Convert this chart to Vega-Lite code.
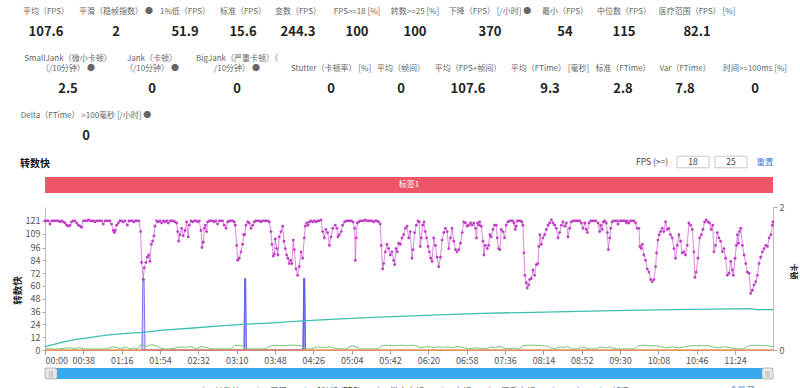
{
  "$schema": "https://vega.github.io/schema/vega-lite/v6.json",
  "width": 800,
  "height": 388,
  "autosize": {"type": "none"},
  "padding": 0,
  "background": "#ffffff",
  "config": {
    "view": {"stroke": null},
    "font": "Noto Sans CJK SC",
    "axis": {"labelFont": "Noto Sans CJK SC", "titleFont": "Noto Sans CJK SC"},
    "legend": {"labelFont": "Noto Sans CJK SC"}
  },
  "datasets": {
    "stats": [
      {"c": 0, "r": 1, "label": "\n平均（FPS）", "value": "107.6"},
      {"c": 1, "r": 1, "label": "\n平滑（稳帧指数） ●", "value": "2"},
      {"c": 2, "r": 1, "label": "\n1%低（FPS）", "value": "51.9"},
      {"c": 3, "r": 1, "label": "\n标准（FPS）", "value": "15.6"},
      {"c": 4, "r": 1, "label": "\n变数（FPS）", "value": "244.3"},
      {"c": 5, "r": 1, "label": "\nFPS>=18 [%]", "value": "100"},
      {"c": 6, "r": 1, "label": "\n转数>=25 [%]", "value": "100"},
      {"c": 7, "r": 1, "label": "\n下降（FPS） [/小时] ●", "value": "370"},
      {"c": 8, "r": 1, "label": "\n最小（FPS）", "value": "54"},
      {"c": 9, "r": 1, "label": "\n中位数（FPS）", "value": "115"},
      {"c": 10, "r": 1, "label": "\n医疗范围（FPS） [%]", "value": "82.1"},
      {"c": 11, "r": 2, "label": "SmallJank（微小卡顿）\n（/10分钟） ●", "value": "2.5"},
      {"c": 12, "r": 2, "label": "Jank（卡顿）\n（/10分钟） ●", "value": "0"},
      {"c": 13, "r": 2, "label": "BigJank（严重卡顿）（\n/10分钟） ●", "value": "0"},
      {"c": 14, "r": 2, "label": "\nStutter（卡顿率） [%]", "value": "0"},
      {"c": 15, "r": 2, "label": "\n平均（帧间）", "value": "0"},
      {"c": 16, "r": 2, "label": "\n平均（FPS+帧间）", "value": "107.6"},
      {"c": 17, "r": 2, "label": "\n平均（FTime） [毫秒]", "value": "9.3"},
      {"c": 18, "r": 2, "label": "\n标准（FTime）", "value": "2.8"},
      {"c": 19, "r": 2, "label": "\nVar（FTime）", "value": "7.8"},
      {"c": 20, "r": 2, "label": "\n时间>=100ms [%]", "value": "0"},
      {"c": 21, "r": 3, "label": "\nDelta（FTime） >100毫秒 [/小时] ●", "value": "0"}
    ],
    "controls": [
      {"c": 22, "r": 4, "text": "转数快", "kind": "title"},
      {"c": 23, "r": 4, "text": "FPS (>=)", "kind": "label"},
      {"c": 24, "r": 4, "text": "18", "kind": "box"},
      {"c": 25, "r": 4, "text": "25", "kind": "box"},
      {"c": 26, "r": 4, "text": "重置", "kind": "link"},
      {"c": 27, "r": 5, "text": "全隐藏", "kind": "link"}
    ],
    "fps": [
      {"t":0,"v":121},{"t":1.7,"v":121},{"t":3.3,"v":121},{"t":5,"v":118},{"t":6.6,"v":121},{"t":8.3,"v":121},{"t":10,"v":121},{"t":11.6,"v":121},{"t":13.2,"v":121},{"t":14.9,"v":120},{"t":16.5,"v":121},{"t":18.2,"v":120},{"t":19.8,"v":119},{"t":21.5,"v":117},{"t":23.1,"v":116},{"t":24.8,"v":117},{"t":26.4,"v":120},{"t":28,"v":121},{"t":29.7,"v":121},{"t":31.4,"v":119},{"t":33,"v":117},{"t":34.7,"v":116},{"t":36.3,"v":115},{"t":38,"v":121},{"t":39.6,"v":121},{"t":41.3,"v":121},{"t":43,"v":122},{"t":44.6,"v":121},{"t":46.2,"v":121},{"t":47.9,"v":121},{"t":49.5,"v":120},{"t":51.2,"v":121},{"t":52.8,"v":121},{"t":54.5,"v":121},{"t":56.1,"v":121},{"t":57.8,"v":118},{"t":59.5,"v":121},{"t":61,"v":121},{"t":62.7,"v":121},{"t":64.4,"v":121},{"t":66,"v":118},{"t":67.7,"v":112},{"t":68.7,"v":110},{"t":69.7,"v":112},{"t":71,"v":117},{"t":72.7,"v":119},{"t":74.3,"v":121},{"t":76,"v":121},{"t":77.6,"v":120},{"t":79.3,"v":121},{"t":81.6,"v":117},{"t":83.2,"v":121},{"t":84.9,"v":121},{"t":86.5,"v":121},{"t":88.2,"v":120},{"t":89.8,"v":121},{"t":91.5,"v":121},{"t":93.1,"v":121},{"t":94.8,"v":111},{"t":95.8,"v":82},{"t":97.4,"v":66},{"t":98.4,"v":77},{"t":100,"v":82},{"t":101.4,"v":87},{"t":102.7,"v":89},{"t":104,"v":83},{"t":105.4,"v":99},{"t":106.7,"v":102},{"t":108,"v":107},{"t":109,"v":116},{"t":110.7,"v":121},{"t":112.3,"v":120},{"t":114,"v":121},{"t":115.6,"v":119},{"t":117.3,"v":121},{"t":119,"v":120},{"t":120.6,"v":121},{"t":122.2,"v":119},{"t":123.9,"v":121},{"t":125.5,"v":121},{"t":127.2,"v":121},{"t":128.8,"v":120},{"t":130.5,"v":119},{"t":131.5,"v":111},{"t":132.5,"v":102},{"t":133.8,"v":108},{"t":135.4,"v":114},{"t":137,"v":107},{"t":138.7,"v":112},{"t":140.4,"v":120},{"t":142,"v":106},{"t":143,"v":117},{"t":144.7,"v":121},{"t":146.3,"v":120},{"t":148,"v":121},{"t":149.6,"v":121},{"t":151.3,"v":120},{"t":153,"v":121},{"t":154.6,"v":112},{"t":155.6,"v":96},{"t":156.9,"v":101},{"t":157.9,"v":114},{"t":158.9,"v":117},{"t":160.2,"v":111},{"t":161.2,"v":120},{"t":162.8,"v":121},{"t":164.5,"v":121},{"t":166.1,"v":121},{"t":167.8,"v":120},{"t":169.4,"v":121},{"t":171.1,"v":118},{"t":172.8,"v":121},{"t":174.4,"v":121},{"t":176,"v":121},{"t":177.7,"v":117},{"t":179.4,"v":114},{"t":181,"v":120},{"t":182.7,"v":121},{"t":184.3,"v":121},{"t":186,"v":121},{"t":187.6,"v":120},{"t":188.6,"v":117},{"t":190,"v":98},{"t":191,"v":84},{"t":192.6,"v":86},{"t":194.2,"v":92},{"t":195.9,"v":99},{"t":196.9,"v":108},{"t":197.9,"v":108},{"t":199.2,"v":117},{"t":200.9,"v":120},{"t":202.5,"v":119},{"t":204.2,"v":114},{"t":205.8,"v":117},{"t":207.5,"v":120},{"t":209,"v":121},{"t":210.8,"v":121},{"t":212.4,"v":121},{"t":214,"v":120},{"t":215.7,"v":121},{"t":217.4,"v":121},{"t":219,"v":121},{"t":220.7,"v":121},{"t":222.3,"v":120},{"t":224,"v":111},{"t":225,"v":99},{"t":226.3,"v":88},{"t":227.3,"v":90},{"t":228.3,"v":104},{"t":229.6,"v":95},{"t":230.9,"v":89},{"t":232.2,"v":106},{"t":233.9,"v":111},{"t":235.6,"v":116},{"t":236.9,"v":102},{"t":238.2,"v":95},{"t":239.5,"v":89},{"t":240.8,"v":86},{"t":242.1,"v":81},{"t":243.5,"v":84},{"t":244.8,"v":81},{"t":246.1,"v":103},{"t":247.1,"v":94},{"t":248.8,"v":76},{"t":250.4,"v":70},{"t":252,"v":78},{"t":253.7,"v":92},{"t":255.4,"v":86},{"t":257,"v":105},{"t":258,"v":116},{"t":259.3,"v":119},{"t":260.7,"v":117},{"t":262,"v":120},{"t":263.6,"v":121},{"t":265.3,"v":120},{"t":267,"v":121},{"t":268.6,"v":120},{"t":270.3,"v":121},{"t":271.9,"v":121},{"t":273.6,"v":122},{"t":275.2,"v":111},{"t":276.9,"v":105},{"t":278.5,"v":113},{"t":280.2,"v":110},{"t":281.9,"v":98},{"t":283.5,"v":106},{"t":285.2,"v":114},{"t":287.7,"v":117},{"t":289.4,"v":114},{"t":290.4,"v":106},{"t":291.7,"v":108},{"t":293.7,"v":111},{"t":295,"v":117},{"t":297,"v":120},{"t":298.7,"v":121},{"t":300.3,"v":121},{"t":302,"v":121},{"t":303.6,"v":121},{"t":305.3,"v":120},{"t":306.9,"v":114},{"t":307.6,"v":84},{"t":308.5,"v":105},{"t":309.5,"v":119},{"t":310.9,"v":120},{"t":312.5,"v":121},{"t":314.2,"v":121},{"t":315.8,"v":121},{"t":317.5,"v":122},{"t":319.1,"v":121},{"t":320.8,"v":121},{"t":322.4,"v":121},{"t":324,"v":121},{"t":325.7,"v":120},{"t":327.4,"v":121},{"t":329,"v":121},{"t":330.7,"v":120},{"t":332.3,"v":118},{"t":333.3,"v":98},{"t":334.7,"v":76},{"t":335.7,"v":81},{"t":337.3,"v":92},{"t":339,"v":99},{"t":340.6,"v":95},{"t":342.3,"v":89},{"t":343.9,"v":92},{"t":345.6,"v":84},{"t":346.6,"v":80},{"t":347.9,"v":95},{"t":349.2,"v":92},{"t":350.5,"v":100},{"t":352.2,"v":99},{"t":353.8,"v":105},{"t":355.5,"v":108},{"t":357.2,"v":114},{"t":358.8,"v":116},{"t":360.5,"v":105},{"t":362.1,"v":111},{"t":363.8,"v":86},{"t":364.8,"v":94},{"t":366.4,"v":110},{"t":368.1,"v":117},{"t":369.7,"v":121},{"t":371,"v":120},{"t":372,"v":97},{"t":373,"v":105},{"t":374.4,"v":117},{"t":375.7,"v":120},{"t":377,"v":111},{"t":378.3,"v":105},{"t":379.7,"v":97},{"t":381,"v":92},{"t":382.3,"v":86},{"t":383.7,"v":83},{"t":385.3,"v":105},{"t":387,"v":98},{"t":388.6,"v":87},{"t":390.3,"v":78},{"t":392,"v":87},{"t":393.6,"v":103},{"t":395.3,"v":110},{"t":396.9,"v":114},{"t":398.6,"v":111},{"t":400.2,"v":95},{"t":401.9,"v":105},{"t":403.5,"v":114},{"t":405.2,"v":102},{"t":406.9,"v":94},{"t":408.5,"v":92},{"t":410.2,"v":94},{"t":411.8,"v":100},{"t":413.5,"v":110},{"t":415.1,"v":120},{"t":416.8,"v":119},{"t":418.4,"v":116},{"t":420,"v":117},{"t":421.8,"v":119},{"t":423.4,"v":117},{"t":425,"v":119},{"t":426.7,"v":114},{"t":427.7,"v":105},{"t":428.7,"v":119},{"t":430,"v":117},{"t":430.8,"v":120},{"t":432.4,"v":116},{"t":434.1,"v":102},{"t":435.1,"v":89},{"t":436.4,"v":98},{"t":438.4,"v":95},{"t":439.7,"v":98},{"t":441,"v":108},{"t":442.3,"v":106},{"t":444,"v":113},{"t":445.7,"v":117},{"t":447.3,"v":117},{"t":448.3,"v":105},{"t":449.6,"v":95},{"t":450.9,"v":94},{"t":452.2,"v":113},{"t":453.9,"v":111},{"t":455.5,"v":105},{"t":457.2,"v":117},{"t":458.8,"v":120},{"t":460.5,"v":121},{"t":462.1,"v":121},{"t":463.8,"v":121},{"t":464.8,"v":119},{"t":466.1,"v":113},{"t":467.1,"v":116},{"t":468.1,"v":121},{"t":469.8,"v":121},{"t":471.4,"v":121},{"t":472.7,"v":120},{"t":473.7,"v":117},{"t":474.7,"v":91},{"t":475.7,"v":70},{"t":477,"v":63},{"t":478,"v":58},{"t":479.4,"v":61},{"t":480.4,"v":66},{"t":482,"v":67},{"t":483.7,"v":75},{"t":485.3,"v":70},{"t":487,"v":80},{"t":488.6,"v":81},{"t":489.6,"v":97},{"t":490.6,"v":108},{"t":491.9,"v":99},{"t":493.6,"v":105},{"t":495.2,"v":108},{"t":496.9,"v":113},{"t":498.6,"v":117},{"t":500.2,"v":119},{"t":501.9,"v":122},{"t":503.5,"v":119},{"t":505.2,"v":117},{"t":506.8,"v":114},{"t":508.5,"v":105},{"t":510.1,"v":110},{"t":511.8,"v":117},{"t":513.4,"v":120},{"t":515.1,"v":116},{"t":516.8,"v":119},{"t":518.4,"v":106},{"t":520,"v":114},{"t":521.7,"v":120},{"t":523.4,"v":121},{"t":525,"v":121},{"t":526.7,"v":121},{"t":528.3,"v":121},{"t":530,"v":121},{"t":531.6,"v":119},{"t":533.3,"v":114},{"t":535,"v":119},{"t":536.6,"v":113},{"t":537.6,"v":110},{"t":539.3,"v":119},{"t":540.9,"v":121},{"t":542.6,"v":121},{"t":544.2,"v":121},{"t":545.9,"v":121},{"t":548.2,"v":119},{"t":549.8,"v":111},{"t":550.8,"v":117},{"t":552.2,"v":113},{"t":553.5,"v":120},{"t":554.8,"v":121},{"t":556.4,"v":119},{"t":557.4,"v":110},{"t":558.4,"v":94},{"t":559.8,"v":105},{"t":560.8,"v":114},{"t":562.1,"v":120},{"t":563.7,"v":121},{"t":565.4,"v":121},{"t":567.1,"v":121},{"t":568,"v":118},{"t":569.7,"v":121},{"t":571.4,"v":121},{"t":573,"v":121},{"t":574.7,"v":121},{"t":576.3,"v":119},{"t":577.1,"v":121},{"t":578.7,"v":119},{"t":580.4,"v":121},{"t":582,"v":121},{"t":583.7,"v":121},{"t":585.4,"v":119},{"t":587,"v":114},{"t":588.7,"v":114},{"t":589.7,"v":97},{"t":591,"v":95},{"t":592,"v":99},{"t":593.6,"v":89},{"t":595.3,"v":84},{"t":597,"v":76},{"t":598.6,"v":73},{"t":600.3,"v":66},{"t":601.9,"v":64},{"t":603.6,"v":66},{"t":605.2,"v":78},{"t":606.2,"v":91},{"t":607.5,"v":103},{"t":608.8,"v":108},{"t":610.1,"v":111},{"t":611.8,"v":114},{"t":613.4,"v":111},{"t":615.1,"v":120},{"t":616.8,"v":113},{"t":618.4,"v":114},{"t":620,"v":108},{"t":621.7,"v":105},{"t":623.4,"v":95},{"t":625,"v":86},{"t":626.7,"v":98},{"t":628.3,"v":108},{"t":630,"v":102},{"t":631.6,"v":91},{"t":633.3,"v":92},{"t":634.9,"v":89},{"t":636.6,"v":98},{"t":638.2,"v":119},{"t":639.9,"v":117},{"t":641.6,"v":113},{"t":643.2,"v":92},{"t":644.2,"v":68},{"t":645.5,"v":73},{"t":647.2,"v":86},{"t":648.9,"v":105},{"t":650.5,"v":108},{"t":652.2,"v":113},{"t":653.8,"v":120},{"t":655.5,"v":122},{"t":657.1,"v":120},{"t":658.8,"v":119},{"t":660.4,"v":113},{"t":661.8,"v":117},{"t":663.1,"v":92},{"t":664.7,"v":98},{"t":666.4,"v":110},{"t":668,"v":105},{"t":669.7,"v":102},{"t":671.4,"v":92},{"t":673,"v":95},{"t":674.7,"v":86},{"t":676.3,"v":70},{"t":678,"v":72},{"t":679.7,"v":83},{"t":681.3,"v":75},{"t":682.3,"v":70},{"t":684,"v":86},{"t":685.3,"v":98},{"t":686.3,"v":108},{"t":687.3,"v":100},{"t":688.3,"v":111},{"t":689.6,"v":114},{"t":691.3,"v":98},{"t":692.9,"v":89},{"t":694.6,"v":81},{"t":696.2,"v":73},{"t":697.9,"v":72},{"t":699.5,"v":53},{"t":701.2,"v":56},{"t":702.8,"v":61},{"t":704.5,"v":64},{"t":706.2,"v":70},{"t":707.8,"v":81},{"t":709.5,"v":87},{"t":711.1,"v":92},{"t":712.8,"v":95},{"t":714.4,"v":98},{"t":716.1,"v":97},{"t":717.8,"v":105},{"t":719.4,"v":108},{"t":721,"v":117},{"t":721.5,"v":120}
    ],
    "low1": [
      {"t":0,"v":3.1},{"t":5,"v":4.3},{"t":10,"v":5.5},{"t":15,"v":6.8},{"t":20,"v":7.8},{"t":28,"v":9.4},{"t":40,"v":11.2},{"t":61,"v":14},{"t":80,"v":15.6},{"t":97,"v":16.6},{"t":120,"v":18.8},{"t":144,"v":20.4},{"t":170,"v":22.3},{"t":196,"v":24},{"t":230,"v":25.7},{"t":255,"v":27.2},{"t":288,"v":29},{"t":320,"v":30.3},{"t":350,"v":31.5},{"t":390,"v":33},{"t":433,"v":34.4},{"t":495,"v":35.5},{"t":540,"v":36.4},{"t":578,"v":37.2},{"t":640,"v":38},{"t":700,"v":38.8},{"t":705,"v":37.8},{"t":721.6,"v":37.8}
    ],
    "smooth": [
      {"t":0,"v":1},{"t":6,"v":1},{"t":12,"v":0.8},{"t":18,"v":1.5},{"t":22,"v":2},{"t":26,"v":2},{"t":30,"v":1},{"t":34,"v":2.5},{"t":38,"v":1},{"t":44,"v":1},{"t":50,"v":0.8},{"t":56,"v":1},{"t":62,"v":1},{"t":67,"v":3},{"t":71,"v":2.5},{"t":75,"v":1},{"t":80,"v":3},{"t":84,"v":1},{"t":88,"v":2},{"t":92,"v":1},{"t":96,"v":6},{"t":99,"v":3},{"t":102,"v":4},{"t":106,"v":5},{"t":110,"v":4},{"t":114,"v":2},{"t":118,"v":1},{"t":124,"v":1},{"t":130,"v":2},{"t":134,"v":3},{"t":138,"v":2.5},{"t":142,"v":3},{"t":146,"v":3},{"t":150,"v":1},{"t":154,"v":3},{"t":158,"v":3},{"t":162,"v":2},{"t":166,"v":1},{"t":172,"v":1},{"t":178,"v":1},{"t":184,"v":1},{"t":188,"v":4},{"t":192,"v":4.5},{"t":196,"v":3.5},{"t":200,"v":1},{"t":206,"v":1},{"t":212,"v":1},{"t":218,"v":1},{"t":224,"v":4},{"t":230,"v":4.5},{"t":236,"v":4},{"t":242,"v":4.5},{"t":248,"v":4.5},{"t":254,"v":4},{"t":258,"v":1},{"t":264,"v":1},{"t":270,"v":3},{"t":276,"v":2},{"t":282,"v":3},{"t":286,"v":2},{"t":292,"v":1},{"t":298,"v":1},{"t":304,"v":4},{"t":308,"v":3},{"t":312,"v":1},{"t":318,"v":1},{"t":324,"v":1},{"t":330,"v":1},{"t":334,"v":4},{"t":340,"v":4.5},{"t":346,"v":4},{"t":352,"v":4.5},{"t":358,"v":4},{"t":364,"v":4.5},{"t":368,"v":4},{"t":372,"v":2},{"t":376,"v":3},{"t":382,"v":3},{"t":386,"v":2},{"t":390,"v":3},{"t":394,"v":2.5},{"t":400,"v":3},{"t":404,"v":2},{"t":408,"v":3},{"t":412,"v":3},{"t":416,"v":2},{"t":420,"v":1},{"t":426,"v":2},{"t":432,"v":1.5},{"t":438,"v":1},{"t":442,"v":3},{"t":446,"v":2},{"t":450,"v":3.5},{"t":454,"v":2},{"t":460,"v":1},{"t":466,"v":2},{"t":470,"v":1},{"t":474,"v":4},{"t":480,"v":4.5},{"t":486,"v":4.5},{"t":492,"v":4},{"t":498,"v":3.5},{"t":504,"v":1},{"t":510,"v":3},{"t":514,"v":2},{"t":518,"v":3.5},{"t":522,"v":1},{"t":528,"v":1},{"t":532,"v":3},{"t":536,"v":2},{"t":540,"v":1},{"t":546,"v":1},{"t":550,"v":3},{"t":556,"v":2},{"t":560,"v":3},{"t":566,"v":1},{"t":572,"v":1},{"t":578,"v":1},{"t":584,"v":1},{"t":588,"v":4},{"t":594,"v":4.5},{"t":600,"v":4},{"t":606,"v":4},{"t":610,"v":3},{"t":616,"v":2},{"t":622,"v":3},{"t":628,"v":2},{"t":634,"v":3},{"t":640,"v":4},{"t":646,"v":4},{"t":652,"v":4},{"t":658,"v":4},{"t":662,"v":3},{"t":668,"v":2},{"t":674,"v":3},{"t":680,"v":2},{"t":686,"v":1},{"t":692,"v":1},{"t":698,"v":4},{"t":704,"v":4.5},{"t":710,"v":4},{"t":716,"v":4},{"t":721.6,"v":3}
    ],
    "jankline": [{"t": 0, "v": 0}, {"t": 721.6, "v": 0}],
    "spikes": [
      {"e": 1, "t": 96, "v": 0}, {"e": 1, "t": 97, "v": 1}, {"e": 1, "t": 98.2, "v": 1}, {"e": 1, "t": 99.2, "v": 0},
      {"e": 2, "t": 197.3, "v": 0}, {"e": 2, "t": 198, "v": 1}, {"e": 2, "t": 198.8, "v": 1}, {"e": 2, "t": 199.5, "v": 0},
      {"e": 3, "t": 255.8, "v": 0}, {"e": 3, "t": 256.5, "v": 1}, {"e": 3, "t": 257.3, "v": 1}, {"e": 3, "t": 258, "v": 0}
    ],
    "band": [{"start": 0, "end": 721.6, "mid": 360.8, "label": "标签1"}],
    "slider": [{"start": 0, "end": 721.6, "bar": "slider"}]
  },
  "layer": [
    {
      "data": {"name": "stats"},
      "mark": {"type": "text", "baseline": "bottom", "align": "center", "fontSize": 8, "color": "#666666", "lineBreak": "\n", "lineHeight": 10},
      "encoding": {
        "x": {"field": "c", "type": "quantitative", "axis": null, "scale": {"domain": [0,1,2,3,4,5,6,7,8,9,10,11,12,13,14,15,16,17,18,19,20,21,22,23,24,25,26,27], "range": [46,116,185,243,298,357,415,490,565,624,697,68,152,237,331,401,468,550,623,685,755,86,20,652,693,731,765,742], "nice": false, "zero": false}},
        "y": {"field": "r", "type": "quantitative", "axis": null, "scale": {"domain": [1,2,3,4,5], "range": [5.5,62.5,109.5,167,395], "nice": false, "zero": false}},
        "text": {"field": "label"}
      }
    },
    {
      "data": {"name": "stats"},
      "mark": {"type": "text", "baseline": "middle", "align": "center", "dy": 26.5, "fontSize": 13, "fontWeight": "bold", "color": "#222222"},
      "encoding": {
        "x": {"field": "c", "type": "quantitative", "axis": null, "scale": {"domain": [0,1,2,3,4,5,6,7,8,9,10,11,12,13,14,15,16,17,18,19,20,21,22,23,24,25,26,27], "range": [46,116,185,243,298,357,415,490,565,624,697,68,152,237,331,401,468,550,623,685,755,86,20,652,693,731,765,742], "nice": false, "zero": false}},
        "y": {"field": "r", "type": "quantitative", "axis": null, "scale": {"domain": [1,2,3,4,5], "range": [5.5,62.5,109.5,167,395], "nice": false, "zero": false}},
        "text": {"field": "value"}
      }
    },
    {
      "data": {"name": "controls"},
      "transform": [{"filter": "datum.kind === 'title'"}],
      "mark": {"type": "text", "baseline": "middle", "align": "left", "dy": -3, "fontSize": 10, "fontWeight": "bold", "color": "#111111"},
      "encoding": {
        "x": {"field": "c", "type": "quantitative", "axis": null, "scale": {"domain": [0,1,2,3,4,5,6,7,8,9,10,11,12,13,14,15,16,17,18,19,20,21,22,23,24,25,26,27], "range": [46,116,185,243,298,357,415,490,565,624,697,68,152,237,331,401,468,550,623,685,755,86,20,652,693,731,765,742], "nice": false, "zero": false}},
        "y": {"field": "r", "type": "quantitative", "axis": null, "scale": {"domain": [1,2,3,4,5], "range": [5.5,62.5,109.5,167,395], "nice": false, "zero": false}},
        "text": {"field": "text"}
      }
    },
    {
      "data": {"name": "controls"},
      "transform": [{"filter": "datum.kind === 'box'"}],
      "mark": {"type": "point", "shape": "M-1,-0.36H1V0.36H-1Z", "size": 1024, "filled": true, "fill": "#ffffff", "stroke": "#c8c8c8", "strokeWidth": 1, "opacity": 1, "yOffset": -5},
      "encoding": {
        "x": {"field": "c", "type": "quantitative", "axis": null, "scale": {"domain": [0,1,2,3,4,5,6,7,8,9,10,11,12,13,14,15,16,17,18,19,20,21,22,23,24,25,26,27], "range": [46,116,185,243,298,357,415,490,565,624,697,68,152,237,331,401,468,550,623,685,755,86,20,652,693,731,765,742], "nice": false, "zero": false}},
        "y": {"field": "r", "type": "quantitative", "axis": null, "scale": {"domain": [1,2,3,4,5], "range": [5.5,62.5,109.5,167,395], "nice": false, "zero": false}}
      }
    },
    {
      "data": {"name": "controls"},
      "transform": [{"filter": "datum.kind === 'box' || datum.kind === 'label'"}],
      "mark": {"type": "text", "baseline": "middle", "align": "center", "dy": -5, "fontSize": 8.5, "color": "#444444"},
      "encoding": {
        "x": {"field": "c", "type": "quantitative", "axis": null, "scale": {"domain": [0,1,2,3,4,5,6,7,8,9,10,11,12,13,14,15,16,17,18,19,20,21,22,23,24,25,26,27], "range": [46,116,185,243,298,357,415,490,565,624,697,68,152,237,331,401,468,550,623,685,755,86,20,652,693,731,765,742], "nice": false, "zero": false}},
        "y": {"field": "r", "type": "quantitative", "axis": null, "scale": {"domain": [1,2,3,4,5], "range": [5.5,62.5,109.5,167,395], "nice": false, "zero": false}},
        "text": {"field": "text"}
      }
    },
    {
      "data": {"name": "controls"},
      "transform": [{"filter": "datum.kind === 'link'"}],
      "mark": {"type": "text", "baseline": "middle", "align": "center", "dy": -5, "fontSize": 8.5, "color": "#3b7ddd"},
      "encoding": {
        "x": {"field": "c", "type": "quantitative", "axis": null, "scale": {"domain": [0,1,2,3,4,5,6,7,8,9,10,11,12,13,14,15,16,17,18,19,20,21,22,23,24,25,26,27], "range": [46,116,185,243,298,357,415,490,565,624,697,68,152,237,331,401,468,550,623,685,755,86,20,652,693,731,765,742], "nice": false, "zero": false}},
        "y": {"field": "r", "type": "quantitative", "axis": null, "scale": {"domain": [1,2,3,4,5], "range": [5.5,62.5,109.5,167,395], "nice": false, "zero": false}},
        "text": {"field": "text"}
      }
    },
    {
      "data": {"name": "band"},
      "mark": {"type": "rect", "color": "#ee5566"},
      "encoding": {
        "x": {"field": "start", "type": "quantitative", "axis": null, "scale": {"domain": [0, 721.6], "range": [45, 773], "nice": false, "zero": false}},
        "x2": {"field": "end"},
        "y": {"field": "label", "type": "nominal", "axis": null, "scale": {"range": [177, 193], "paddingInner": 0, "paddingOuter": 0}}
      }
    },
    {
      "data": {"name": "band"},
      "mark": {"type": "text", "color": "#ffffff", "fontSize": 8, "baseline": "middle", "align": "center"},
      "encoding": {
        "x": {"field": "mid", "type": "quantitative", "axis": null, "scale": {"domain": [0, 721.6], "range": [45, 773], "nice": false, "zero": false}},
        "y": {"field": "label", "type": "nominal", "axis": null, "bandPosition": 0.5, "scale": {"range": [177, 193], "paddingInner": 0, "paddingOuter": 0}},
        "text": {"field": "label"}
      }
    },
    {
      "data": {"name": "spikes"},
      "mark": {"type": "area", "fillOpacity": 0.3, "line": {"strokeWidth": 0.8}},
      "encoding": {
        "x": {"field": "t", "type": "quantitative", "axis": null, "scale": {"domain": [0, 721.6], "range": [45, 773], "nice": false, "zero": false}},
        "y": {"field": "v", "type": "quantitative", "scale": {"domain": [0, 2], "range": [350, 207], "nice": false, "zero": false},
              "axis": {"orient": "right", "offset": -27, "values": [0, 1, 2], "format": "d", "grid": false, "tickSize": 4, "tickColor": "#aaaaaa", "domainColor": "#bbbbbb", "labelColor": "#555555", "labelFontSize": 9, "labelPadding": 2, "title": "卡顿", "titleFontSize": 8, "titleFontWeight": "bold", "titleColor": "#222222", "titleAngle": 90, "titleX": 19, "titleY": 271, "titleBaseline": "middle", "titleAlign": "center"}},
        "detail": {"field": "e", "type": "nominal"},
        "color": {"datum": "微小卡顿", "scale": {"domain": ["转数快", "平滑", "1%低 (FPS)", "微小卡顿", "卡顿", "严重卡顿", "口吃", "帧间"], "range": ["#c13dc6", "#72c872", "#3fbfae", "#5a5af2", "#f0915a", "#e64c4c", "#3d7fe0", "#3cc7d8"]},
                  "legend": {"orient": "none", "legendX": 196, "legendY": 383, "direction": "horizontal", "title": null, "symbolType": "M-1,0H-0.4M0.4,0H1M0.4,0A0.4,0.4,0,1,0,-0.4,0A0.4,0.4,0,1,0,0.4,0", "symbolSize": 169, "symbolStrokeWidth": 1.5, "symbolFillColor": "#ffffff", "symbolOpacity": 1, "labelFontSize": 8.5, "labelColor": "#333333", "labelOffset": 4, "columnPadding": 8}}
      }
    },
    {
      "data": {"name": "low1"},
      "mark": {"type": "line", "strokeWidth": 1.3},
      "encoding": {
        "x": {"field": "t", "type": "quantitative", "axis": null, "scale": {"domain": [0, 721.6], "range": [45, 773], "nice": false, "zero": false}},
        "y": {"field": "v", "type": "quantitative", "axis": null, "scale": {"domain": [0, 134], "range": [350, 207], "nice": false, "zero": false}},
        "color": {"datum": "1%低 (FPS)", "scale": {"domain": ["转数快", "平滑", "1%低 (FPS)", "微小卡顿", "卡顿", "严重卡顿", "口吃", "帧间"], "range": ["#c13dc6", "#72c872", "#3fbfae", "#5a5af2", "#f0915a", "#e64c4c", "#3d7fe0", "#3cc7d8"]}}
      }
    },
    {
      "data": {"name": "smooth"},
      "mark": {"type": "line", "strokeWidth": 1},
      "encoding": {
        "x": {"field": "t", "type": "quantitative", "axis": null, "scale": {"domain": [0, 721.6], "range": [45, 773], "nice": false, "zero": false}},
        "y": {"field": "v", "type": "quantitative", "axis": null, "scale": {"domain": [0, 134], "range": [350, 207], "nice": false, "zero": false}},
        "color": {"datum": "平滑", "scale": {"domain": ["转数快", "平滑", "1%低 (FPS)", "微小卡顿", "卡顿", "严重卡顿", "口吃", "帧间"], "range": ["#c13dc6", "#72c872", "#3fbfae", "#5a5af2", "#f0915a", "#e64c4c", "#3d7fe0", "#3cc7d8"]}}
      }
    },
    {
      "data": {"name": "jankline"},
      "mark": {"type": "line", "strokeWidth": 1.5},
      "encoding": {
        "x": {"field": "t", "type": "quantitative", "axis": null, "scale": {"domain": [0, 721.6], "range": [45, 773], "nice": false, "zero": false}},
        "y": {"field": "v", "type": "quantitative", "axis": null, "scale": {"domain": [0, 134], "range": [350, 207], "nice": false, "zero": false}},
        "color": {"datum": "卡顿", "scale": {"domain": ["转数快", "平滑", "1%低 (FPS)", "微小卡顿", "卡顿", "严重卡顿", "口吃", "帧间"], "range": ["#c13dc6", "#72c872", "#3fbfae", "#5a5af2", "#f0915a", "#e64c4c", "#3d7fe0", "#3cc7d8"]}}
      }
    },
    {
      "data": {"name": "fps"},
      "mark": {"type": "line", "strokeWidth": 1, "strokeOpacity": 0.6},
      "encoding": {
        "x": {"field": "t", "type": "quantitative", "scale": {"domain": [0, 721.6], "range": [45, 773], "nice": false, "zero": false},
              "axis": {"orient": "bottom", "offset": -38, "values": [0,38,76,114,152,190,228,266,304,342,380,418,456,494,532,570,608,646,684], "labelExpr": "utcFormat(datum.value * 1000, '%M:%S')", "title": null, "grid": false, "tickSize": 4, "tickColor": "#999999", "domainColor": "#999999", "labelColor": "#555555", "labelFontSize": 9, "labelPadding": 2, "labelOverlap": false}},
        "y": {"field": "v", "type": "quantitative", "scale": {"domain": [0, 134], "range": [350, 207], "nice": false, "zero": false},
              "axis": {"orient": "left", "offset": -45, "values": [0,12,24,36,48,60,72,84,96,109,121], "grid": false, "tickSize": 3, "tickColor": "#aaaaaa", "domainColor": "#bbbbbb", "labelColor": "#555555", "labelFontSize": 9, "labelPadding": 2, "labelOverlap": false, "title": "转数快", "titleFontSize": 9.5, "titleFontWeight": "bold", "titleColor": "#222222", "titleAngle": -90, "titleX": -28, "titleY": 290, "titleBaseline": "middle", "titleAlign": "center"}},
        "color": {"datum": "转数快", "scale": {"domain": ["转数快", "平滑", "1%低 (FPS)", "微小卡顿", "卡顿", "严重卡顿", "口吃", "帧间"], "range": ["#c13dc6", "#72c872", "#3fbfae", "#5a5af2", "#f0915a", "#e64c4c", "#3d7fe0", "#3cc7d8"]}}
      }
    },
    {
      "data": {"name": "fps"},
      "mark": {"type": "point", "filled": true, "size": 8, "opacity": 1},
      "encoding": {
        "x": {"field": "t", "type": "quantitative", "axis": null, "scale": {"domain": [0, 721.6], "range": [45, 773], "nice": false, "zero": false}},
        "y": {"field": "v", "type": "quantitative", "axis": null, "scale": {"domain": [0, 134], "range": [350, 207], "nice": false, "zero": false}},
        "color": {"datum": "转数快", "scale": {"domain": ["转数快", "平滑", "1%低 (FPS)", "微小卡顿", "卡顿", "严重卡顿", "口吃", "帧间"], "range": ["#c13dc6", "#72c872", "#3fbfae", "#5a5af2", "#f0915a", "#e64c4c", "#3d7fe0", "#3cc7d8"]}}
      }
    },
    {
      "data": {"name": "slider"},
      "mark": {"type": "rect", "color": "#38a8ec"},
      "encoding": {
        "x": {"field": "start", "type": "quantitative", "axis": null, "scale": {"domain": [0, 721.6], "range": [45, 773], "nice": false, "zero": false}},
        "x2": {"field": "end"},
        "y": {"field": "bar", "type": "nominal", "axis": null, "scale": {"range": [368, 379], "paddingInner": 0, "paddingOuter": 0}}
      }
    },
    {
      "data": {"name": "slider"},
      "mark": {"type": "rect", "fill": "#e8e8e8", "stroke": "#aaaaaa", "strokeWidth": 0.8, "cornerRadius": 2, "x2Offset": 12},
      "encoding": {
        "x": {"field": "start", "type": "quantitative", "axis": null, "scale": {"domain": [0, 721.6], "range": [45, 773], "nice": false, "zero": false}},
        "x2": {"field": "start"},
        "y": {"field": "bar", "type": "nominal", "axis": null, "scale": {"range": [368, 379], "paddingInner": 0, "paddingOuter": 0}}
      }
    },
    {
      "data": {"name": "slider"},
      "mark": {"type": "rect", "fill": "#e8e8e8", "stroke": "#aaaaaa", "strokeWidth": 0.8, "cornerRadius": 2, "xOffset": -11},
      "encoding": {
        "x": {"field": "end", "type": "quantitative", "axis": null, "scale": {"domain": [0, 721.6], "range": [45, 773], "nice": false, "zero": false}},
        "x2": {"field": "end"},
        "y": {"field": "bar", "type": "nominal", "axis": null, "scale": {"range": [368, 379], "paddingInner": 0, "paddingOuter": 0}}
      }
    },
    {
      "data": {"name": "slider"},
      "mark": {"type": "text", "text": "|||", "fontSize": 6, "color": "#888888", "dx": 6, "baseline": "middle", "align": "center"},
      "encoding": {
        "x": {"field": "start", "type": "quantitative", "axis": null, "scale": {"domain": [0, 721.6], "range": [45, 773], "nice": false, "zero": false}},
        "y": {"field": "bar", "type": "nominal", "axis": null, "bandPosition": 0.5, "scale": {"range": [368, 379], "paddingInner": 0, "paddingOuter": 0}}
      }
    },
    {
      "data": {"name": "slider"},
      "mark": {"type": "text", "text": "|||", "fontSize": 6, "color": "#888888", "dx": -5.5, "baseline": "middle", "align": "center"},
      "encoding": {
        "x": {"field": "end", "type": "quantitative", "axis": null, "scale": {"domain": [0, 721.6], "range": [45, 773], "nice": false, "zero": false}},
        "y": {"field": "bar", "type": "nominal", "axis": null, "bandPosition": 0.5, "scale": {"range": [368, 379], "paddingInner": 0, "paddingOuter": 0}}
      }
    }
  ],
  "resolve": {"scale": {"x": "independent", "y": "independent"}, "axis": {"x": "independent", "y": "independent"}}
}
